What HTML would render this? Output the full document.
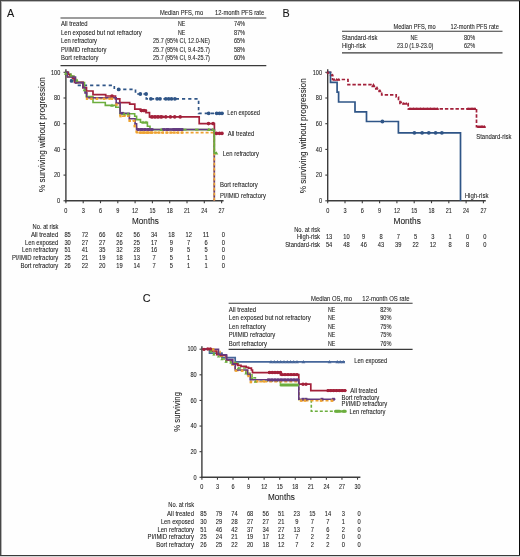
<!DOCTYPE html>
<html><head><meta charset="utf-8"><style>
html,body{margin:0;padding:0;background:#fff;}
body{width:520px;height:557px;overflow:hidden;position:relative;}
svg{position:absolute;left:0;top:0;display:block;will-change:transform;}
svg text{font-family:"Liberation Sans", sans-serif;stroke:#222;stroke-width:0.08px;}
</style></head><body>
<svg width="520" height="557" viewBox="0 0 520 557">
<rect x="0" y="0" width="520" height="557" fill="#fefefe"/>
<text x="7.00" y="16.50" font-size="10.8" text-anchor="start" fill="#111">A</text>
<line x1="60.50" y1="18.00" x2="266.30" y2="18.00" stroke="#3a3a3a" stroke-width="1.1"/>
<line x1="60.50" y1="65.60" x2="266.30" y2="65.60" stroke="#3a3a3a" stroke-width="1.3"/>
<text x="181.60" y="15.10" font-size="6.5" text-anchor="middle" textLength="43.1" lengthAdjust="spacingAndGlyphs" fill="#222">Median PFS, mo</text>
<text x="239.60" y="15.10" font-size="6.5" text-anchor="middle" textLength="49.1" lengthAdjust="spacingAndGlyphs" fill="#222">12-month PFS rate</text>
<text x="61.00" y="26.30" font-size="6.5" text-anchor="start" textLength="26.6" lengthAdjust="spacingAndGlyphs" fill="#222">All treated</text>
<text x="181.60" y="26.30" font-size="6.5" text-anchor="middle" textLength="7.3" lengthAdjust="spacingAndGlyphs" fill="#222">NE</text>
<text x="239.50" y="26.30" font-size="6.5" text-anchor="middle" textLength="11.2" lengthAdjust="spacingAndGlyphs" fill="#222">74%</text>
<text x="61.00" y="34.80" font-size="6.5" text-anchor="start" textLength="80.8" lengthAdjust="spacingAndGlyphs" fill="#222">Len exposed but not refractory</text>
<text x="181.60" y="34.80" font-size="6.5" text-anchor="middle" textLength="7.3" lengthAdjust="spacingAndGlyphs" fill="#222">NE</text>
<text x="239.50" y="34.80" font-size="6.5" text-anchor="middle" textLength="11.2" lengthAdjust="spacingAndGlyphs" fill="#222">87%</text>
<text x="61.00" y="43.20" font-size="6.5" text-anchor="start" textLength="36.0" lengthAdjust="spacingAndGlyphs" fill="#222">Len refractory</text>
<text x="181.50" y="43.20" font-size="6.5" text-anchor="middle" textLength="56.9" lengthAdjust="spacingAndGlyphs" fill="#222">25.7 (95% CI, 12.0-NE)</text>
<text x="239.50" y="43.20" font-size="6.5" text-anchor="middle" textLength="11.2" lengthAdjust="spacingAndGlyphs" fill="#222">65%</text>
<text x="61.00" y="51.60" font-size="6.5" text-anchor="start" textLength="45.5" lengthAdjust="spacingAndGlyphs" fill="#222">PI/IMiD refractory</text>
<text x="181.50" y="51.60" font-size="6.5" text-anchor="middle" textLength="56.9" lengthAdjust="spacingAndGlyphs" fill="#222">25.7 (95% CI, 9.4-25.7)</text>
<text x="239.50" y="51.60" font-size="6.5" text-anchor="middle" textLength="11.2" lengthAdjust="spacingAndGlyphs" fill="#222">58%</text>
<text x="61.00" y="60.00" font-size="6.5" text-anchor="start" textLength="37.4" lengthAdjust="spacingAndGlyphs" fill="#222">Bort refractory</text>
<text x="181.50" y="60.00" font-size="6.5" text-anchor="middle" textLength="56.9" lengthAdjust="spacingAndGlyphs" fill="#222">25.7 (95% CI, 9.4-25.7)</text>
<text x="239.50" y="60.00" font-size="6.5" text-anchor="middle" textLength="11.2" lengthAdjust="spacingAndGlyphs" fill="#222">60%</text>
<line x1="65.90" y1="69.30" x2="65.90" y2="201.40" stroke="#3c3c3c" stroke-width="1.4"/>
<line x1="63.50" y1="200.80" x2="65.90" y2="200.80" stroke="#3c3c3c" stroke-width="1.1"/>
<text x="60.20" y="203.00" font-size="6.5" text-anchor="end" textLength="3.1" lengthAdjust="spacingAndGlyphs" fill="#222">0</text>
<line x1="63.50" y1="175.10" x2="65.90" y2="175.10" stroke="#3c3c3c" stroke-width="1.1"/>
<text x="60.20" y="177.30" font-size="6.5" text-anchor="end" textLength="6.2" lengthAdjust="spacingAndGlyphs" fill="#222">20</text>
<line x1="63.50" y1="149.40" x2="65.90" y2="149.40" stroke="#3c3c3c" stroke-width="1.1"/>
<text x="60.20" y="151.60" font-size="6.5" text-anchor="end" textLength="6.2" lengthAdjust="spacingAndGlyphs" fill="#222">40</text>
<line x1="63.50" y1="123.70" x2="65.90" y2="123.70" stroke="#3c3c3c" stroke-width="1.1"/>
<text x="60.20" y="125.90" font-size="6.5" text-anchor="end" textLength="6.2" lengthAdjust="spacingAndGlyphs" fill="#222">60</text>
<line x1="63.50" y1="98.00" x2="65.90" y2="98.00" stroke="#3c3c3c" stroke-width="1.1"/>
<text x="60.20" y="100.20" font-size="6.5" text-anchor="end" textLength="6.2" lengthAdjust="spacingAndGlyphs" fill="#222">80</text>
<line x1="63.50" y1="72.30" x2="65.90" y2="72.30" stroke="#3c3c3c" stroke-width="1.1"/>
<text x="60.20" y="74.50" font-size="6.5" text-anchor="end" textLength="9.2" lengthAdjust="spacingAndGlyphs" fill="#222">100</text>
<line x1="65.20" y1="200.80" x2="223.60" y2="200.80" stroke="#3c3c3c" stroke-width="1.4"/>
<line x1="65.90" y1="200.80" x2="65.90" y2="203.20" stroke="#3c3c3c" stroke-width="1.1"/>
<text x="65.90" y="212.50" font-size="6.5" text-anchor="middle" textLength="3.1" lengthAdjust="spacingAndGlyphs" fill="#222">0</text>
<line x1="83.20" y1="200.80" x2="83.20" y2="203.20" stroke="#3c3c3c" stroke-width="1.1"/>
<text x="83.20" y="212.50" font-size="6.5" text-anchor="middle" textLength="3.1" lengthAdjust="spacingAndGlyphs" fill="#222">3</text>
<line x1="100.50" y1="200.80" x2="100.50" y2="203.20" stroke="#3c3c3c" stroke-width="1.1"/>
<text x="100.50" y="212.50" font-size="6.5" text-anchor="middle" textLength="3.1" lengthAdjust="spacingAndGlyphs" fill="#222">6</text>
<line x1="117.80" y1="200.80" x2="117.80" y2="203.20" stroke="#3c3c3c" stroke-width="1.1"/>
<text x="117.80" y="212.50" font-size="6.5" text-anchor="middle" textLength="3.1" lengthAdjust="spacingAndGlyphs" fill="#222">9</text>
<line x1="135.10" y1="200.80" x2="135.10" y2="203.20" stroke="#3c3c3c" stroke-width="1.1"/>
<text x="135.10" y="212.50" font-size="6.5" text-anchor="middle" textLength="6.0" lengthAdjust="spacingAndGlyphs" fill="#222">12</text>
<line x1="152.41" y1="200.80" x2="152.41" y2="203.20" stroke="#3c3c3c" stroke-width="1.1"/>
<text x="152.41" y="212.50" font-size="6.5" text-anchor="middle" textLength="6.0" lengthAdjust="spacingAndGlyphs" fill="#222">15</text>
<line x1="169.71" y1="200.80" x2="169.71" y2="203.20" stroke="#3c3c3c" stroke-width="1.1"/>
<text x="169.71" y="212.50" font-size="6.5" text-anchor="middle" textLength="6.0" lengthAdjust="spacingAndGlyphs" fill="#222">18</text>
<line x1="187.01" y1="200.80" x2="187.01" y2="203.20" stroke="#3c3c3c" stroke-width="1.1"/>
<text x="187.01" y="212.50" font-size="6.5" text-anchor="middle" textLength="6.0" lengthAdjust="spacingAndGlyphs" fill="#222">21</text>
<line x1="204.31" y1="200.80" x2="204.31" y2="203.20" stroke="#3c3c3c" stroke-width="1.1"/>
<text x="204.31" y="212.50" font-size="6.5" text-anchor="middle" textLength="6.0" lengthAdjust="spacingAndGlyphs" fill="#222">24</text>
<line x1="221.61" y1="200.80" x2="221.61" y2="203.20" stroke="#3c3c3c" stroke-width="1.1"/>
<text x="221.61" y="212.50" font-size="6.5" text-anchor="middle" textLength="6.0" lengthAdjust="spacingAndGlyphs" fill="#222">27</text>
<text x="145.40" y="223.80" font-size="9.2" text-anchor="middle" textLength="26.7" lengthAdjust="spacingAndGlyphs" fill="#222">Months</text>
<text transform="translate(44.7,134.6) rotate(-90)" font-size="9.0" text-anchor="middle" textLength="115" lengthAdjust="spacingAndGlyphs" fill="#222">% surviving without progression</text>
<path d="M65.90,72.30 H68.50 V76.50 H71.00 V80.90 H76.00 V85.30 H114.30 V89.40 H135.50 V94.00 H146.30 V98.80 H198.60 V113.30 H222.30" fill="none" stroke="#2f5587" stroke-width="1.7" stroke-dasharray="3.2,3" stroke-linejoin="miter" stroke-linecap="butt"/>
<path d="M65.90,72.30 H67.20 V77.00 H75.50 V82.60 H83.00 V88.00 H85.00 V93.00 H86.80 V98.70 H116.30 V104.60 H120.10 V116.20 H129.50 V120.80 H134.70 V126.20 H136.60 V132.60 H214.30 V200.80" fill="none" stroke="#eea230" stroke-width="1.6" stroke-dasharray="3,2" stroke-linejoin="miter" stroke-linecap="butt"/>
<path d="M65.90,72.30 H67.00 V74.00 H71.00 V76.00 H74.00 V80.40 H77.00 V82.50 H84.50 V89.90 H86.20 V96.60 H93.00 V102.50 H105.30 V105.40 H115.80 V107.30 H120.10 V113.80 H134.70 V116.20 H136.60 V119.60 H140.50 V122.30 H147.40 V126.20 H150.00 V129.60 H214.30 V153.10 H216.50" fill="none" stroke="#6cae3e" stroke-width="1.6" stroke-linejoin="miter" stroke-linecap="butt"/>
<path d="M65.90,72.30 H68.00 V74.50 H70.00 V76.50 H72.50 V78.50 H74.50 V82.40 H83.00 V87.50 H86.50 V91.00 H93.00 V94.60 H105.70 V96.00 H115.50 V98.80 H119.80 V102.70 H129.70 V104.20 H134.80 V109.20 H140.60 V110.60 H146.00 V112.70 H149.50 V116.90 H199.20 V123.60 H214.40 V133.40 H222.50" fill="none" stroke="#a3203a" stroke-width="1.7" stroke-linejoin="miter" stroke-linecap="butt"/>
<path d="M65.90,72.30 H67.20 V77.00 H75.50 V82.60 H83.00 V87.70 H85.00 V92.90 H86.80 V97.80 H116.20 V103.10 H120.10 V113.30 H129.30 V118.80 H135.10 V123.80 H136.60 V129.50 H214.30 V200.80" fill="none" stroke="#633a80" stroke-width="1.6" stroke-linejoin="miter" stroke-linecap="butt"/>
<path d="M214.3,132.6 V200.8" fill="none" stroke="#eea230" stroke-width="1.6" stroke-dasharray="3,2" stroke-linejoin="miter" stroke-linecap="butt"/>
<path d="M214.3,129.6 V153.1 H216.5 M183,129.6 H186.5 M195,129.6 H198.5 M207.7,129.6 H210" fill="none" stroke="#6cae3e" stroke-width="1.6" stroke-linejoin="miter" stroke-linecap="butt"/>
<circle cx="71.60" cy="80.90" r="1.9" fill="#2f5587"/>
<circle cx="118.70" cy="89.40" r="1.9" fill="#2f5587"/>
<circle cx="140.30" cy="94.00" r="1.9" fill="#2f5587"/>
<circle cx="146.10" cy="94.00" r="1.9" fill="#2f5587"/>
<circle cx="150.90" cy="98.80" r="1.9" fill="#2f5587"/>
<circle cx="157.10" cy="98.80" r="1.9" fill="#2f5587"/>
<circle cx="160.00" cy="98.80" r="1.9" fill="#2f5587"/>
<circle cx="165.80" cy="98.80" r="1.9" fill="#2f5587"/>
<circle cx="168.70" cy="98.80" r="1.9" fill="#2f5587"/>
<circle cx="171.50" cy="98.80" r="1.9" fill="#2f5587"/>
<circle cx="174.90" cy="98.80" r="1.9" fill="#2f5587"/>
<circle cx="208.70" cy="113.30" r="1.9" fill="#2f5587"/>
<circle cx="216.70" cy="113.30" r="1.9" fill="#2f5587"/>
<circle cx="219.50" cy="113.30" r="1.9" fill="#2f5587"/>
<circle cx="222.00" cy="113.30" r="1.9" fill="#2f5587"/>
<circle cx="112.00" cy="96.00" r="1.8" fill="#a3203a"/>
<circle cx="141.50" cy="110.60" r="1.8" fill="#a3203a"/>
<circle cx="144.00" cy="110.60" r="1.8" fill="#a3203a"/>
<circle cx="152.00" cy="116.90" r="1.8" fill="#a3203a"/>
<circle cx="155.00" cy="116.90" r="1.8" fill="#a3203a"/>
<circle cx="158.00" cy="116.90" r="1.8" fill="#a3203a"/>
<circle cx="161.20" cy="116.90" r="1.8" fill="#a3203a"/>
<circle cx="165.80" cy="116.90" r="1.8" fill="#a3203a"/>
<circle cx="170.40" cy="116.90" r="1.8" fill="#a3203a"/>
<circle cx="174.70" cy="116.90" r="1.8" fill="#a3203a"/>
<circle cx="180.20" cy="116.90" r="1.8" fill="#a3203a"/>
<circle cx="208.50" cy="123.60" r="1.8" fill="#a3203a"/>
<circle cx="213.10" cy="123.60" r="1.8" fill="#a3203a"/>
<circle cx="216.50" cy="133.40" r="1.8" fill="#a3203a"/>
<circle cx="219.50" cy="133.40" r="1.8" fill="#a3203a"/>
<circle cx="222.00" cy="133.40" r="1.8" fill="#a3203a"/>
<rect x="85.80" y="97.50" width="2.4" height="2.4" fill="#eea230"/>
<rect x="90.30" y="97.50" width="2.4" height="2.4" fill="#eea230"/>
<rect x="96.00" y="97.50" width="2.4" height="2.4" fill="#eea230"/>
<rect x="102.80" y="97.50" width="2.4" height="2.4" fill="#eea230"/>
<rect x="108.30" y="97.50" width="2.4" height="2.4" fill="#eea230"/>
<rect x="110.80" y="97.50" width="2.4" height="2.4" fill="#eea230"/>
<rect x="115.40" y="103.40" width="2.4" height="2.4" fill="#eea230"/>
<rect x="119.30" y="115.00" width="2.4" height="2.4" fill="#eea230"/>
<rect x="123.50" y="114.30" width="2.4" height="2.4" fill="#eea230"/>
<rect x="127.30" y="114.30" width="2.4" height="2.4" fill="#eea230"/>
<rect x="128.50" y="119.60" width="2.4" height="2.4" fill="#eea230"/>
<rect x="133.10" y="119.60" width="2.4" height="2.4" fill="#eea230"/>
<rect x="133.50" y="125.00" width="2.4" height="2.4" fill="#eea230"/>
<rect x="135.40" y="130.30" width="2.4" height="2.4" fill="#eea230"/>
<rect x="138.80" y="131.40" width="2.4" height="2.4" fill="#eea230"/>
<rect x="142.62" y="131.40" width="2.4" height="2.4" fill="#eea230"/>
<rect x="146.44" y="131.40" width="2.4" height="2.4" fill="#eea230"/>
<rect x="150.25" y="131.40" width="2.4" height="2.4" fill="#eea230"/>
<rect x="154.07" y="131.40" width="2.4" height="2.4" fill="#eea230"/>
<rect x="157.89" y="131.40" width="2.4" height="2.4" fill="#eea230"/>
<rect x="161.71" y="131.40" width="2.4" height="2.4" fill="#eea230"/>
<rect x="165.53" y="131.40" width="2.4" height="2.4" fill="#eea230"/>
<rect x="169.35" y="131.40" width="2.4" height="2.4" fill="#eea230"/>
<rect x="173.16" y="131.40" width="2.4" height="2.4" fill="#eea230"/>
<rect x="176.98" y="131.40" width="2.4" height="2.4" fill="#eea230"/>
<rect x="180.80" y="131.40" width="2.4" height="2.4" fill="#eea230"/>
<rect x="121.10" y="111.90" width="2.8" height="2.8" fill="#633a80"/>
<rect x="136.60" y="128.10" width="2.8" height="2.8" fill="#633a80"/>
<rect x="140.10" y="128.10" width="2.8" height="2.8" fill="#633a80"/>
<rect x="143.60" y="128.10" width="2.8" height="2.8" fill="#633a80"/>
<rect x="147.10" y="128.10" width="2.8" height="2.8" fill="#633a80"/>
<rect x="150.60" y="128.10" width="2.8" height="2.8" fill="#633a80"/>
<rect x="162.10" y="128.10" width="2.8" height="2.8" fill="#633a80"/>
<rect x="166.10" y="128.10" width="2.8" height="2.8" fill="#633a80"/>
<rect x="172.40" y="128.10" width="2.8" height="2.8" fill="#633a80"/>
<rect x="175.13" y="128.10" width="2.8" height="2.8" fill="#633a80"/>
<rect x="177.87" y="128.10" width="2.8" height="2.8" fill="#633a80"/>
<rect x="180.60" y="128.10" width="2.8" height="2.8" fill="#633a80"/>
<path d="M63.90,74.85 L67.50,74.85 L65.70,71.70 Z" fill="#6cae3e"/>
<path d="M69.10,76.85 L72.70,76.85 L70.90,73.70 Z" fill="#6cae3e"/>
<path d="M75.20,81.75 L78.80,81.75 L77.00,78.60 Z" fill="#6cae3e"/>
<path d="M82.70,91.25 L86.30,91.25 L84.50,88.10 Z" fill="#6cae3e"/>
<path d="M110.20,106.75 L113.80,106.75 L112.00,103.60 Z" fill="#6cae3e"/>
<path d="M122.20,115.15 L125.80,115.15 L124.00,112.00 Z" fill="#6cae3e"/>
<path d="M126.20,115.15 L129.80,115.15 L128.00,112.00 Z" fill="#6cae3e"/>
<path d="M141.20,123.65 L144.80,123.65 L143.00,120.50 Z" fill="#6cae3e"/>
<path d="M144.20,123.65 L147.80,123.65 L146.00,120.50 Z" fill="#6cae3e"/>
<path d="M159.40,130.95 L163.00,130.95 L161.20,127.80 Z" fill="#6cae3e"/>
<path d="M207.00,130.95 L210.60,130.95 L208.80,127.80 Z" fill="#6cae3e"/>
<path d="M210.90,130.95 L214.50,130.95 L212.70,127.80 Z" fill="#6cae3e"/>
<path d="M214.70,154.45 L218.30,154.45 L216.50,151.30 Z" fill="#6cae3e"/>
<path d="M141,110.6 H146 M150.5,116.9 H163" stroke="#a3203a" stroke-width="2.6" stroke-linecap="round" fill="none"/>
<path d="M138,129.5 H150.6 M165,129.5 H173.4 M174.6,129.5 H182" stroke="#633a80" stroke-width="2.5" stroke-linecap="round" fill="none"/>
<path d="M140.6,132.6 H152.2" stroke="#eea230" stroke-width="2.4" stroke-linecap="round" fill="none"/>
<text x="227.30" y="115.30" font-size="6.5" text-anchor="start" textLength="32.7" lengthAdjust="spacingAndGlyphs" fill="#222">Len exposed</text>
<text x="227.80" y="135.80" font-size="6.5" text-anchor="start" textLength="26.4" lengthAdjust="spacingAndGlyphs" fill="#222">All treated</text>
<text x="222.80" y="155.50" font-size="6.5" text-anchor="start" textLength="36.2" lengthAdjust="spacingAndGlyphs" fill="#222">Len refractory</text>
<text x="220.00" y="187.30" font-size="6.5" text-anchor="start" textLength="37.8" lengthAdjust="spacingAndGlyphs" fill="#222">Bort refractory</text>
<text x="220.00" y="198.20" font-size="6.5" text-anchor="start" textLength="45.9" lengthAdjust="spacingAndGlyphs" fill="#222">PI/IMiD refractory</text>
<text x="58.50" y="228.80" font-size="6.5" text-anchor="end" textLength="25.9" lengthAdjust="spacingAndGlyphs" fill="#222">No. at risk</text>
<text x="58.30" y="236.60" font-size="6.5" text-anchor="end" textLength="27.4" lengthAdjust="spacingAndGlyphs" fill="#222">All treated</text>
<text x="67.60" y="236.60" font-size="6.6" text-anchor="middle" textLength="6.4" lengthAdjust="spacingAndGlyphs" fill="#222">85</text>
<text x="84.90" y="236.60" font-size="6.6" text-anchor="middle" textLength="6.4" lengthAdjust="spacingAndGlyphs" fill="#222">72</text>
<text x="102.20" y="236.60" font-size="6.6" text-anchor="middle" textLength="6.4" lengthAdjust="spacingAndGlyphs" fill="#222">66</text>
<text x="119.50" y="236.60" font-size="6.6" text-anchor="middle" textLength="6.4" lengthAdjust="spacingAndGlyphs" fill="#222">62</text>
<text x="136.80" y="236.60" font-size="6.6" text-anchor="middle" textLength="6.4" lengthAdjust="spacingAndGlyphs" fill="#222">56</text>
<text x="154.11" y="236.60" font-size="6.6" text-anchor="middle" textLength="6.4" lengthAdjust="spacingAndGlyphs" fill="#222">34</text>
<text x="171.41" y="236.60" font-size="6.6" text-anchor="middle" textLength="6.4" lengthAdjust="spacingAndGlyphs" fill="#222">18</text>
<text x="188.71" y="236.60" font-size="6.6" text-anchor="middle" textLength="6.4" lengthAdjust="spacingAndGlyphs" fill="#222">12</text>
<text x="206.01" y="236.60" font-size="6.6" text-anchor="middle" textLength="6.4" lengthAdjust="spacingAndGlyphs" fill="#222">11</text>
<text x="223.31" y="236.60" font-size="6.6" text-anchor="middle" textLength="3.2" lengthAdjust="spacingAndGlyphs" fill="#222">0</text>
<text x="58.30" y="244.60" font-size="6.5" text-anchor="end" textLength="33.2" lengthAdjust="spacingAndGlyphs" fill="#222">Len exposed</text>
<text x="67.60" y="244.60" font-size="6.6" text-anchor="middle" textLength="6.4" lengthAdjust="spacingAndGlyphs" fill="#222">30</text>
<text x="84.90" y="244.60" font-size="6.6" text-anchor="middle" textLength="6.4" lengthAdjust="spacingAndGlyphs" fill="#222">27</text>
<text x="102.20" y="244.60" font-size="6.6" text-anchor="middle" textLength="6.4" lengthAdjust="spacingAndGlyphs" fill="#222">27</text>
<text x="119.50" y="244.60" font-size="6.6" text-anchor="middle" textLength="6.4" lengthAdjust="spacingAndGlyphs" fill="#222">26</text>
<text x="136.80" y="244.60" font-size="6.6" text-anchor="middle" textLength="6.4" lengthAdjust="spacingAndGlyphs" fill="#222">25</text>
<text x="154.11" y="244.60" font-size="6.6" text-anchor="middle" textLength="6.4" lengthAdjust="spacingAndGlyphs" fill="#222">17</text>
<text x="171.41" y="244.60" font-size="6.6" text-anchor="middle" textLength="3.2" lengthAdjust="spacingAndGlyphs" fill="#222">9</text>
<text x="188.71" y="244.60" font-size="6.6" text-anchor="middle" textLength="3.2" lengthAdjust="spacingAndGlyphs" fill="#222">7</text>
<text x="206.01" y="244.60" font-size="6.6" text-anchor="middle" textLength="3.2" lengthAdjust="spacingAndGlyphs" fill="#222">6</text>
<text x="223.31" y="244.60" font-size="6.6" text-anchor="middle" textLength="3.2" lengthAdjust="spacingAndGlyphs" fill="#222">0</text>
<text x="58.30" y="252.40" font-size="6.5" text-anchor="end" textLength="36.4" lengthAdjust="spacingAndGlyphs" fill="#222">Len refractory</text>
<text x="67.60" y="252.40" font-size="6.6" text-anchor="middle" textLength="6.4" lengthAdjust="spacingAndGlyphs" fill="#222">51</text>
<text x="84.90" y="252.40" font-size="6.6" text-anchor="middle" textLength="6.4" lengthAdjust="spacingAndGlyphs" fill="#222">41</text>
<text x="102.20" y="252.40" font-size="6.6" text-anchor="middle" textLength="6.4" lengthAdjust="spacingAndGlyphs" fill="#222">35</text>
<text x="119.50" y="252.40" font-size="6.6" text-anchor="middle" textLength="6.4" lengthAdjust="spacingAndGlyphs" fill="#222">32</text>
<text x="136.80" y="252.40" font-size="6.6" text-anchor="middle" textLength="6.4" lengthAdjust="spacingAndGlyphs" fill="#222">28</text>
<text x="154.11" y="252.40" font-size="6.6" text-anchor="middle" textLength="6.4" lengthAdjust="spacingAndGlyphs" fill="#222">16</text>
<text x="171.41" y="252.40" font-size="6.6" text-anchor="middle" textLength="3.2" lengthAdjust="spacingAndGlyphs" fill="#222">9</text>
<text x="188.71" y="252.40" font-size="6.6" text-anchor="middle" textLength="3.2" lengthAdjust="spacingAndGlyphs" fill="#222">5</text>
<text x="206.01" y="252.40" font-size="6.6" text-anchor="middle" textLength="3.2" lengthAdjust="spacingAndGlyphs" fill="#222">5</text>
<text x="223.31" y="252.40" font-size="6.6" text-anchor="middle" textLength="3.2" lengthAdjust="spacingAndGlyphs" fill="#222">0</text>
<text x="58.30" y="260.20" font-size="6.5" text-anchor="end" textLength="46.3" lengthAdjust="spacingAndGlyphs" fill="#222">PI/IMiD refractory</text>
<text x="67.60" y="260.20" font-size="6.6" text-anchor="middle" textLength="6.4" lengthAdjust="spacingAndGlyphs" fill="#222">25</text>
<text x="84.90" y="260.20" font-size="6.6" text-anchor="middle" textLength="6.4" lengthAdjust="spacingAndGlyphs" fill="#222">21</text>
<text x="102.20" y="260.20" font-size="6.6" text-anchor="middle" textLength="6.4" lengthAdjust="spacingAndGlyphs" fill="#222">19</text>
<text x="119.50" y="260.20" font-size="6.6" text-anchor="middle" textLength="6.4" lengthAdjust="spacingAndGlyphs" fill="#222">18</text>
<text x="136.80" y="260.20" font-size="6.6" text-anchor="middle" textLength="6.4" lengthAdjust="spacingAndGlyphs" fill="#222">13</text>
<text x="154.11" y="260.20" font-size="6.6" text-anchor="middle" textLength="3.2" lengthAdjust="spacingAndGlyphs" fill="#222">7</text>
<text x="171.41" y="260.20" font-size="6.6" text-anchor="middle" textLength="3.2" lengthAdjust="spacingAndGlyphs" fill="#222">5</text>
<text x="188.71" y="260.20" font-size="6.6" text-anchor="middle" textLength="3.2" lengthAdjust="spacingAndGlyphs" fill="#222">1</text>
<text x="206.01" y="260.20" font-size="6.6" text-anchor="middle" textLength="3.2" lengthAdjust="spacingAndGlyphs" fill="#222">1</text>
<text x="223.31" y="260.20" font-size="6.6" text-anchor="middle" textLength="3.2" lengthAdjust="spacingAndGlyphs" fill="#222">0</text>
<text x="58.30" y="268.00" font-size="6.5" text-anchor="end" textLength="37.9" lengthAdjust="spacingAndGlyphs" fill="#222">Bort refractory</text>
<text x="67.60" y="268.00" font-size="6.6" text-anchor="middle" textLength="6.4" lengthAdjust="spacingAndGlyphs" fill="#222">26</text>
<text x="84.90" y="268.00" font-size="6.6" text-anchor="middle" textLength="6.4" lengthAdjust="spacingAndGlyphs" fill="#222">22</text>
<text x="102.20" y="268.00" font-size="6.6" text-anchor="middle" textLength="6.4" lengthAdjust="spacingAndGlyphs" fill="#222">20</text>
<text x="119.50" y="268.00" font-size="6.6" text-anchor="middle" textLength="6.4" lengthAdjust="spacingAndGlyphs" fill="#222">19</text>
<text x="136.80" y="268.00" font-size="6.6" text-anchor="middle" textLength="6.4" lengthAdjust="spacingAndGlyphs" fill="#222">14</text>
<text x="154.11" y="268.00" font-size="6.6" text-anchor="middle" textLength="3.2" lengthAdjust="spacingAndGlyphs" fill="#222">7</text>
<text x="171.41" y="268.00" font-size="6.6" text-anchor="middle" textLength="3.2" lengthAdjust="spacingAndGlyphs" fill="#222">5</text>
<text x="188.71" y="268.00" font-size="6.6" text-anchor="middle" textLength="3.2" lengthAdjust="spacingAndGlyphs" fill="#222">1</text>
<text x="206.01" y="268.00" font-size="6.6" text-anchor="middle" textLength="3.2" lengthAdjust="spacingAndGlyphs" fill="#222">1</text>
<text x="223.31" y="268.00" font-size="6.6" text-anchor="middle" textLength="3.2" lengthAdjust="spacingAndGlyphs" fill="#222">0</text>
<text x="282.50" y="16.60" font-size="10.8" text-anchor="start" fill="#111">B</text>
<line x1="342.00" y1="31.30" x2="502.50" y2="31.30" stroke="#3a3a3a" stroke-width="1.1"/>
<line x1="342.00" y1="52.90" x2="502.50" y2="52.90" stroke="#3a3a3a" stroke-width="1.3"/>
<text x="414.60" y="28.60" font-size="6.5" text-anchor="middle" textLength="42.2" lengthAdjust="spacingAndGlyphs" fill="#222">Median PFS, mo</text>
<text x="474.70" y="28.60" font-size="6.5" text-anchor="middle" textLength="48.4" lengthAdjust="spacingAndGlyphs" fill="#222">12-month PFS rate</text>
<text x="342.00" y="39.60" font-size="6.5" text-anchor="start" textLength="35.4" lengthAdjust="spacingAndGlyphs" fill="#222">Standard-risk</text>
<text x="342.00" y="48.30" font-size="6.5" text-anchor="start" textLength="23.7" lengthAdjust="spacingAndGlyphs" fill="#222">High-risk</text>
<text x="414.20" y="39.60" font-size="6.5" text-anchor="middle" textLength="7.3" lengthAdjust="spacingAndGlyphs" fill="#222">NE</text>
<text x="415.20" y="48.30" font-size="6.5" text-anchor="middle" textLength="36.4" lengthAdjust="spacingAndGlyphs" fill="#222">23.0 (1.9-23.0)</text>
<text x="469.60" y="39.60" font-size="6.5" text-anchor="middle" textLength="11.2" lengthAdjust="spacingAndGlyphs" fill="#222">80%</text>
<text x="469.60" y="48.30" font-size="6.5" text-anchor="middle" textLength="11.2" lengthAdjust="spacingAndGlyphs" fill="#222">62%</text>
<line x1="327.70" y1="69.30" x2="327.70" y2="201.40" stroke="#3c3c3c" stroke-width="1.4"/>
<line x1="325.30" y1="200.80" x2="327.70" y2="200.80" stroke="#3c3c3c" stroke-width="1.1"/>
<text x="322.00" y="203.00" font-size="6.5" text-anchor="end" textLength="3.1" lengthAdjust="spacingAndGlyphs" fill="#222">0</text>
<line x1="325.30" y1="175.10" x2="327.70" y2="175.10" stroke="#3c3c3c" stroke-width="1.1"/>
<text x="322.00" y="177.30" font-size="6.5" text-anchor="end" textLength="6.2" lengthAdjust="spacingAndGlyphs" fill="#222">20</text>
<line x1="325.30" y1="149.40" x2="327.70" y2="149.40" stroke="#3c3c3c" stroke-width="1.1"/>
<text x="322.00" y="151.60" font-size="6.5" text-anchor="end" textLength="6.2" lengthAdjust="spacingAndGlyphs" fill="#222">40</text>
<line x1="325.30" y1="123.70" x2="327.70" y2="123.70" stroke="#3c3c3c" stroke-width="1.1"/>
<text x="322.00" y="125.90" font-size="6.5" text-anchor="end" textLength="6.2" lengthAdjust="spacingAndGlyphs" fill="#222">60</text>
<line x1="325.30" y1="98.00" x2="327.70" y2="98.00" stroke="#3c3c3c" stroke-width="1.1"/>
<text x="322.00" y="100.20" font-size="6.5" text-anchor="end" textLength="6.2" lengthAdjust="spacingAndGlyphs" fill="#222">80</text>
<line x1="325.30" y1="72.30" x2="327.70" y2="72.30" stroke="#3c3c3c" stroke-width="1.1"/>
<text x="322.00" y="74.50" font-size="6.5" text-anchor="end" textLength="9.2" lengthAdjust="spacingAndGlyphs" fill="#222">100</text>
<line x1="327.00" y1="200.80" x2="485.80" y2="200.80" stroke="#3c3c3c" stroke-width="1.4"/>
<line x1="327.70" y1="200.80" x2="327.70" y2="203.20" stroke="#3c3c3c" stroke-width="1.1"/>
<text x="327.70" y="212.50" font-size="6.5" text-anchor="middle" textLength="3.1" lengthAdjust="spacingAndGlyphs" fill="#222">0</text>
<line x1="345.00" y1="200.80" x2="345.00" y2="203.20" stroke="#3c3c3c" stroke-width="1.1"/>
<text x="345.00" y="212.50" font-size="6.5" text-anchor="middle" textLength="3.1" lengthAdjust="spacingAndGlyphs" fill="#222">3</text>
<line x1="362.30" y1="200.80" x2="362.30" y2="203.20" stroke="#3c3c3c" stroke-width="1.1"/>
<text x="362.30" y="212.50" font-size="6.5" text-anchor="middle" textLength="3.1" lengthAdjust="spacingAndGlyphs" fill="#222">6</text>
<line x1="379.60" y1="200.80" x2="379.60" y2="203.20" stroke="#3c3c3c" stroke-width="1.1"/>
<text x="379.60" y="212.50" font-size="6.5" text-anchor="middle" textLength="3.1" lengthAdjust="spacingAndGlyphs" fill="#222">9</text>
<line x1="396.90" y1="200.80" x2="396.90" y2="203.20" stroke="#3c3c3c" stroke-width="1.1"/>
<text x="396.90" y="212.50" font-size="6.5" text-anchor="middle" textLength="6.0" lengthAdjust="spacingAndGlyphs" fill="#222">12</text>
<line x1="414.20" y1="200.80" x2="414.20" y2="203.20" stroke="#3c3c3c" stroke-width="1.1"/>
<text x="414.20" y="212.50" font-size="6.5" text-anchor="middle" textLength="6.0" lengthAdjust="spacingAndGlyphs" fill="#222">15</text>
<line x1="431.51" y1="200.80" x2="431.51" y2="203.20" stroke="#3c3c3c" stroke-width="1.1"/>
<text x="431.51" y="212.50" font-size="6.5" text-anchor="middle" textLength="6.0" lengthAdjust="spacingAndGlyphs" fill="#222">18</text>
<line x1="448.81" y1="200.80" x2="448.81" y2="203.20" stroke="#3c3c3c" stroke-width="1.1"/>
<text x="448.81" y="212.50" font-size="6.5" text-anchor="middle" textLength="6.0" lengthAdjust="spacingAndGlyphs" fill="#222">21</text>
<line x1="466.11" y1="200.80" x2="466.11" y2="203.20" stroke="#3c3c3c" stroke-width="1.1"/>
<text x="466.11" y="212.50" font-size="6.5" text-anchor="middle" textLength="6.0" lengthAdjust="spacingAndGlyphs" fill="#222">24</text>
<line x1="483.41" y1="200.80" x2="483.41" y2="203.20" stroke="#3c3c3c" stroke-width="1.1"/>
<text x="483.41" y="212.50" font-size="6.5" text-anchor="middle" textLength="6.0" lengthAdjust="spacingAndGlyphs" fill="#222">27</text>
<text x="407.20" y="223.80" font-size="9.2" text-anchor="middle" textLength="27.3" lengthAdjust="spacingAndGlyphs" fill="#222">Months</text>
<text transform="translate(306.1,135.8) rotate(-90)" font-size="9.0" text-anchor="middle" textLength="115" lengthAdjust="spacingAndGlyphs" fill="#222">% surviving without progression</text>
<path d="M327.70,72.30 H330.50 V75.00 H332.50 V79.50 H348.00 V84.70 H372.30 V86.50 H375.80 V89.00 H379.20 V91.50 H381.70 V94.80 H396.20 V97.00 H398.50 V99.50 H400.00 V103.50 H408.20 V108.80 H476.50 V126.70 H484.60" fill="none" stroke="#a3203a" stroke-width="1.7" stroke-dasharray="3.4,1.9" stroke-linejoin="miter" stroke-linecap="butt"/>
<path d="M327.70,72.30 H330.50 V82.30 H337.10 V92.10 H338.60 V102.00 H355.00 V111.90 H366.50 V121.50 H398.40 V132.80 H460.50 V200.80" fill="none" stroke="#2f5587" stroke-width="1.7" stroke-linejoin="miter" stroke-linecap="butt"/>
<circle cx="382.40" cy="121.50" r="1.9" fill="#2f5587"/>
<circle cx="414.40" cy="132.80" r="1.9" fill="#2f5587"/>
<circle cx="422.10" cy="132.80" r="1.9" fill="#2f5587"/>
<circle cx="428.80" cy="132.80" r="1.9" fill="#2f5587"/>
<circle cx="435.60" cy="132.80" r="1.9" fill="#2f5587"/>
<circle cx="441.90" cy="132.80" r="1.9" fill="#2f5587"/>
<path d="M326.30,73.70 L329.50,73.70 L327.90,70.90 Z" fill="#a3203a"/>
<path d="M330.70,76.20 L333.90,76.20 L332.30,73.40 Z" fill="#a3203a"/>
<path d="M332.60,80.70 L335.80,80.70 L334.20,77.90 Z" fill="#a3203a"/>
<path d="M334.90,80.70 L338.10,80.70 L336.50,77.90 Z" fill="#a3203a"/>
<path d="M337.20,80.70 L340.40,80.70 L338.80,77.90 Z" fill="#a3203a"/>
<path d="M371.90,85.90 L375.10,85.90 L373.50,83.10 Z" fill="#a3203a"/>
<path d="M375.40,88.70 L378.60,88.70 L377.00,85.90 Z" fill="#a3203a"/>
<path d="M378.40,91.70 L381.60,91.70 L380.00,88.90 Z" fill="#a3203a"/>
<path d="M399.40,103.20 L402.60,103.20 L401.00,100.40 Z" fill="#a3203a"/>
<path d="M401.90,104.70 L405.10,104.70 L403.50,101.90 Z" fill="#a3203a"/>
<path d="M404.90,104.70 L408.10,104.70 L406.50,101.90 Z" fill="#a3203a"/>
<path d="M408.40,110.00 L411.60,110.00 L410.00,107.20 Z" fill="#a3203a"/>
<path d="M411.84,110.00 L415.04,110.00 L413.44,107.20 Z" fill="#a3203a"/>
<path d="M415.27,110.00 L418.48,110.00 L416.88,107.20 Z" fill="#a3203a"/>
<path d="M418.71,110.00 L421.91,110.00 L420.31,107.20 Z" fill="#a3203a"/>
<path d="M422.15,110.00 L425.35,110.00 L423.75,107.20 Z" fill="#a3203a"/>
<path d="M425.59,110.00 L428.79,110.00 L427.19,107.20 Z" fill="#a3203a"/>
<path d="M429.02,110.00 L432.23,110.00 L430.62,107.20 Z" fill="#a3203a"/>
<path d="M432.46,110.00 L435.66,110.00 L434.06,107.20 Z" fill="#a3203a"/>
<path d="M435.90,110.00 L439.10,110.00 L437.50,107.20 Z" fill="#a3203a"/>
<path d="M466.40,110.00 L469.60,110.00 L468.00,107.20 Z" fill="#a3203a"/>
<path d="M470.40,110.00 L473.60,110.00 L472.00,107.20 Z" fill="#a3203a"/>
<path d="M473.40,110.00 L476.60,110.00 L475.00,107.20 Z" fill="#a3203a"/>
<path d="M477.40,127.90 L480.60,127.90 L479.00,125.10 Z" fill="#a3203a"/>
<path d="M480.40,127.90 L483.60,127.90 L482.00,125.10 Z" fill="#a3203a"/>
<path d="M482.80,127.90 L486.00,127.90 L484.40,125.10 Z" fill="#a3203a"/>
<path d="M409.5,108.9 H437.5 M468,108.9 H475 M478,126.8 H484.5" stroke="#a3203a" stroke-width="2.3" stroke-linecap="round" fill="none"/>
<text x="476.30" y="139.00" font-size="6.5" text-anchor="start" textLength="35.1" lengthAdjust="spacingAndGlyphs" fill="#222">Standard-risk</text>
<text x="464.70" y="197.60" font-size="6.5" text-anchor="start" textLength="23.8" lengthAdjust="spacingAndGlyphs" fill="#222">High-risk</text>
<text x="320.10" y="231.60" font-size="6.5" text-anchor="end" textLength="25.9" lengthAdjust="spacingAndGlyphs" fill="#222">No. at risk</text>
<text x="320.00" y="239.00" font-size="6.5" text-anchor="end" textLength="23.1" lengthAdjust="spacingAndGlyphs" fill="#222">High-risk</text>
<text x="320.00" y="246.80" font-size="6.5" text-anchor="end" textLength="34.8" lengthAdjust="spacingAndGlyphs" fill="#222">Standard-risk</text>
<text x="329.10" y="239.00" font-size="6.6" text-anchor="middle" textLength="6.4" lengthAdjust="spacingAndGlyphs" fill="#222">13</text>
<text x="346.40" y="239.00" font-size="6.6" text-anchor="middle" textLength="6.4" lengthAdjust="spacingAndGlyphs" fill="#222">10</text>
<text x="363.70" y="239.00" font-size="6.6" text-anchor="middle" textLength="3.2" lengthAdjust="spacingAndGlyphs" fill="#222">9</text>
<text x="381.00" y="239.00" font-size="6.6" text-anchor="middle" textLength="3.2" lengthAdjust="spacingAndGlyphs" fill="#222">8</text>
<text x="398.30" y="239.00" font-size="6.6" text-anchor="middle" textLength="3.2" lengthAdjust="spacingAndGlyphs" fill="#222">7</text>
<text x="415.60" y="239.00" font-size="6.6" text-anchor="middle" textLength="3.2" lengthAdjust="spacingAndGlyphs" fill="#222">5</text>
<text x="432.91" y="239.00" font-size="6.6" text-anchor="middle" textLength="3.2" lengthAdjust="spacingAndGlyphs" fill="#222">3</text>
<text x="450.21" y="239.00" font-size="6.6" text-anchor="middle" textLength="3.2" lengthAdjust="spacingAndGlyphs" fill="#222">1</text>
<text x="467.51" y="239.00" font-size="6.6" text-anchor="middle" textLength="3.2" lengthAdjust="spacingAndGlyphs" fill="#222">0</text>
<text x="484.81" y="239.00" font-size="6.6" text-anchor="middle" textLength="3.2" lengthAdjust="spacingAndGlyphs" fill="#222">0</text>
<text x="329.10" y="246.80" font-size="6.6" text-anchor="middle" textLength="6.4" lengthAdjust="spacingAndGlyphs" fill="#222">54</text>
<text x="346.40" y="246.80" font-size="6.6" text-anchor="middle" textLength="6.4" lengthAdjust="spacingAndGlyphs" fill="#222">48</text>
<text x="363.70" y="246.80" font-size="6.6" text-anchor="middle" textLength="6.4" lengthAdjust="spacingAndGlyphs" fill="#222">46</text>
<text x="381.00" y="246.80" font-size="6.6" text-anchor="middle" textLength="6.4" lengthAdjust="spacingAndGlyphs" fill="#222">43</text>
<text x="398.30" y="246.80" font-size="6.6" text-anchor="middle" textLength="6.4" lengthAdjust="spacingAndGlyphs" fill="#222">39</text>
<text x="415.60" y="246.80" font-size="6.6" text-anchor="middle" textLength="6.4" lengthAdjust="spacingAndGlyphs" fill="#222">22</text>
<text x="432.91" y="246.80" font-size="6.6" text-anchor="middle" textLength="6.4" lengthAdjust="spacingAndGlyphs" fill="#222">12</text>
<text x="450.21" y="246.80" font-size="6.6" text-anchor="middle" textLength="3.2" lengthAdjust="spacingAndGlyphs" fill="#222">8</text>
<text x="467.51" y="246.80" font-size="6.6" text-anchor="middle" textLength="3.2" lengthAdjust="spacingAndGlyphs" fill="#222">8</text>
<text x="484.81" y="246.80" font-size="6.6" text-anchor="middle" textLength="3.2" lengthAdjust="spacingAndGlyphs" fill="#222">0</text>
<text x="142.80" y="302.30" font-size="10.8" text-anchor="start" fill="#111">C</text>
<line x1="228.60" y1="303.30" x2="412.60" y2="303.30" stroke="#3a3a3a" stroke-width="1.1"/>
<line x1="228.60" y1="349.30" x2="412.60" y2="349.30" stroke="#3a3a3a" stroke-width="1.3"/>
<text x="331.50" y="300.50" font-size="6.5" text-anchor="middle" textLength="41.0" lengthAdjust="spacingAndGlyphs" fill="#222">Median OS, mo</text>
<text x="386.00" y="300.50" font-size="6.5" text-anchor="middle" textLength="47.3" lengthAdjust="spacingAndGlyphs" fill="#222">12-month OS rate</text>
<text x="228.80" y="311.90" font-size="6.5" text-anchor="start" textLength="27.4" lengthAdjust="spacingAndGlyphs" fill="#222">All treated</text>
<text x="331.60" y="311.90" font-size="6.5" text-anchor="middle" textLength="7.3" lengthAdjust="spacingAndGlyphs" fill="#222">NE</text>
<text x="385.80" y="311.90" font-size="6.5" text-anchor="middle" textLength="11.2" lengthAdjust="spacingAndGlyphs" fill="#222">82%</text>
<text x="228.80" y="320.40" font-size="6.5" text-anchor="start" textLength="81.9" lengthAdjust="spacingAndGlyphs" fill="#222">Len exposed but not refractory</text>
<text x="331.60" y="320.40" font-size="6.5" text-anchor="middle" textLength="7.3" lengthAdjust="spacingAndGlyphs" fill="#222">NE</text>
<text x="385.80" y="320.40" font-size="6.5" text-anchor="middle" textLength="11.2" lengthAdjust="spacingAndGlyphs" fill="#222">90%</text>
<text x="228.80" y="328.90" font-size="6.5" text-anchor="start" textLength="36.9" lengthAdjust="spacingAndGlyphs" fill="#222">Len refractory</text>
<text x="331.60" y="328.90" font-size="6.5" text-anchor="middle" textLength="7.3" lengthAdjust="spacingAndGlyphs" fill="#222">NE</text>
<text x="385.80" y="328.90" font-size="6.5" text-anchor="middle" textLength="11.2" lengthAdjust="spacingAndGlyphs" fill="#222">75%</text>
<text x="228.80" y="337.30" font-size="6.5" text-anchor="start" textLength="46.4" lengthAdjust="spacingAndGlyphs" fill="#222">PI/IMiD refractory</text>
<text x="331.60" y="337.30" font-size="6.5" text-anchor="middle" textLength="7.3" lengthAdjust="spacingAndGlyphs" fill="#222">NE</text>
<text x="385.80" y="337.30" font-size="6.5" text-anchor="middle" textLength="11.2" lengthAdjust="spacingAndGlyphs" fill="#222">75%</text>
<text x="228.80" y="345.80" font-size="6.5" text-anchor="start" textLength="38.1" lengthAdjust="spacingAndGlyphs" fill="#222">Bort refractory</text>
<text x="331.60" y="345.80" font-size="6.5" text-anchor="middle" textLength="7.3" lengthAdjust="spacingAndGlyphs" fill="#222">NE</text>
<text x="385.80" y="345.80" font-size="6.5" text-anchor="middle" textLength="11.2" lengthAdjust="spacingAndGlyphs" fill="#222">76%</text>
<line x1="201.90" y1="346.30" x2="201.90" y2="477.90" stroke="#3c3c3c" stroke-width="1.4"/>
<line x1="199.50" y1="477.30" x2="201.90" y2="477.30" stroke="#3c3c3c" stroke-width="1.1"/>
<text x="196.60" y="479.50" font-size="6.5" text-anchor="end" textLength="3.1" lengthAdjust="spacingAndGlyphs" fill="#222">0</text>
<line x1="199.50" y1="451.68" x2="201.90" y2="451.68" stroke="#3c3c3c" stroke-width="1.1"/>
<text x="196.60" y="453.88" font-size="6.5" text-anchor="end" textLength="6.2" lengthAdjust="spacingAndGlyphs" fill="#222">20</text>
<line x1="199.50" y1="426.06" x2="201.90" y2="426.06" stroke="#3c3c3c" stroke-width="1.1"/>
<text x="196.60" y="428.26" font-size="6.5" text-anchor="end" textLength="6.2" lengthAdjust="spacingAndGlyphs" fill="#222">40</text>
<line x1="199.50" y1="400.44" x2="201.90" y2="400.44" stroke="#3c3c3c" stroke-width="1.1"/>
<text x="196.60" y="402.64" font-size="6.5" text-anchor="end" textLength="6.2" lengthAdjust="spacingAndGlyphs" fill="#222">60</text>
<line x1="199.50" y1="374.82" x2="201.90" y2="374.82" stroke="#3c3c3c" stroke-width="1.1"/>
<text x="196.60" y="377.02" font-size="6.5" text-anchor="end" textLength="6.2" lengthAdjust="spacingAndGlyphs" fill="#222">80</text>
<line x1="199.50" y1="349.20" x2="201.90" y2="349.20" stroke="#3c3c3c" stroke-width="1.1"/>
<text x="196.60" y="351.40" font-size="6.5" text-anchor="end" textLength="9.2" lengthAdjust="spacingAndGlyphs" fill="#222">100</text>
<line x1="201.20" y1="477.30" x2="360.40" y2="477.30" stroke="#3c3c3c" stroke-width="1.4"/>
<line x1="201.90" y1="477.30" x2="201.90" y2="479.70" stroke="#3c3c3c" stroke-width="1.1"/>
<text x="201.90" y="489.00" font-size="6.5" text-anchor="middle" textLength="3.1" lengthAdjust="spacingAndGlyphs" fill="#222">0</text>
<line x1="217.46" y1="477.30" x2="217.46" y2="479.70" stroke="#3c3c3c" stroke-width="1.1"/>
<text x="217.46" y="489.00" font-size="6.5" text-anchor="middle" textLength="3.1" lengthAdjust="spacingAndGlyphs" fill="#222">3</text>
<line x1="233.02" y1="477.30" x2="233.02" y2="479.70" stroke="#3c3c3c" stroke-width="1.1"/>
<text x="233.02" y="489.00" font-size="6.5" text-anchor="middle" textLength="3.1" lengthAdjust="spacingAndGlyphs" fill="#222">6</text>
<line x1="248.58" y1="477.30" x2="248.58" y2="479.70" stroke="#3c3c3c" stroke-width="1.1"/>
<text x="248.58" y="489.00" font-size="6.5" text-anchor="middle" textLength="3.1" lengthAdjust="spacingAndGlyphs" fill="#222">9</text>
<line x1="264.14" y1="477.30" x2="264.14" y2="479.70" stroke="#3c3c3c" stroke-width="1.1"/>
<text x="264.14" y="489.00" font-size="6.5" text-anchor="middle" textLength="6.0" lengthAdjust="spacingAndGlyphs" fill="#222">12</text>
<line x1="279.71" y1="477.30" x2="279.71" y2="479.70" stroke="#3c3c3c" stroke-width="1.1"/>
<text x="279.71" y="489.00" font-size="6.5" text-anchor="middle" textLength="6.0" lengthAdjust="spacingAndGlyphs" fill="#222">15</text>
<line x1="295.27" y1="477.30" x2="295.27" y2="479.70" stroke="#3c3c3c" stroke-width="1.1"/>
<text x="295.27" y="489.00" font-size="6.5" text-anchor="middle" textLength="6.0" lengthAdjust="spacingAndGlyphs" fill="#222">18</text>
<line x1="310.83" y1="477.30" x2="310.83" y2="479.70" stroke="#3c3c3c" stroke-width="1.1"/>
<text x="310.83" y="489.00" font-size="6.5" text-anchor="middle" textLength="6.0" lengthAdjust="spacingAndGlyphs" fill="#222">21</text>
<line x1="326.39" y1="477.30" x2="326.39" y2="479.70" stroke="#3c3c3c" stroke-width="1.1"/>
<text x="326.39" y="489.00" font-size="6.5" text-anchor="middle" textLength="6.0" lengthAdjust="spacingAndGlyphs" fill="#222">24</text>
<line x1="341.95" y1="477.30" x2="341.95" y2="479.70" stroke="#3c3c3c" stroke-width="1.1"/>
<text x="341.95" y="489.00" font-size="6.5" text-anchor="middle" textLength="6.0" lengthAdjust="spacingAndGlyphs" fill="#222">27</text>
<line x1="357.51" y1="477.30" x2="357.51" y2="479.70" stroke="#3c3c3c" stroke-width="1.1"/>
<text x="357.51" y="489.00" font-size="6.5" text-anchor="middle" textLength="6.0" lengthAdjust="spacingAndGlyphs" fill="#222">30</text>
<text x="281.40" y="500.30" font-size="9.2" text-anchor="middle" textLength="26.8" lengthAdjust="spacingAndGlyphs" fill="#222">Months</text>
<text transform="translate(180.1,411.9) rotate(-90)" font-size="9.0" text-anchor="middle" textLength="39.7" lengthAdjust="spacingAndGlyphs" fill="#222">% surviving</text>
<path d="M201.90,349.20 H209.50 V353.20 H221.90 V357.60 H235.20 V361.90 H345.00" fill="none" stroke="#46669a" stroke-width="1.7" stroke-linejoin="miter" stroke-linecap="butt"/>
<path d="M201.90,349.20 H210.50 V351.20 H213.80 V354.40 H218.50 V356.40 H221.90 V359.00 H226.00 V361.60 H230.90 V362.50 H238.40 V368.00 H245.90 V373.20 H252.00 V377.80 H255.40 V381.30 H280.40 V385.20 H298.80 V399.50 H311.30 V411.30 H344.00" fill="none" stroke="#6cae3e" stroke-width="1.6" stroke-dasharray="3,2" stroke-linejoin="miter" stroke-linecap="butt"/>
<path d="M201.90,349.20 H213.30 V351.50 H220.00 V356.00 H226.00 V360.00 H232.00 V365.00 H235.00 V370.60 H248.50 V376.00 H250.80 V381.80 H298.80 V400.60 H335.40" fill="none" stroke="#eea230" stroke-width="1.6" stroke-dasharray="3,2" stroke-linejoin="miter" stroke-linecap="butt"/>
<path d="M201.90,349.20 H211.00 V351.00 H216.70 V354.70 H220.20 V355.50 H226.50 V359.90 H232.60 V363.90 H237.50 V365.40 H241.00 V366.30 H246.20 V367.40 H248.50 V368.20 H251.40 V370.00 H252.50 V372.60 H280.40 V374.60 H298.80 V384.20 H310.80 V390.60 H345.00" fill="none" stroke="#a3203a" stroke-width="1.7" stroke-linejoin="miter" stroke-linecap="butt"/>
<path d="M201.90,349.20 H218.50 V354.20 H222.00 V354.70 H226.50 V359.60 H232.50 V364.20 H235.20 V370.00 H247.60 V374.60 H250.20 V379.80 H298.80 V399.20 H335.40" fill="none" stroke="#633a80" stroke-width="1.6" stroke-linejoin="miter" stroke-linecap="butt"/>
<path d="M269.10,363.32 L272.90,363.32 L271.00,360.00 Z" fill="#46669a"/>
<path d="M272.35,363.32 L276.15,363.32 L274.25,360.00 Z" fill="#46669a"/>
<path d="M275.60,363.32 L279.40,363.32 L277.50,360.00 Z" fill="#46669a"/>
<path d="M278.85,363.32 L282.65,363.32 L280.75,360.00 Z" fill="#46669a"/>
<path d="M282.10,363.32 L285.90,363.32 L284.00,360.00 Z" fill="#46669a"/>
<path d="M285.35,363.32 L289.15,363.32 L287.25,360.00 Z" fill="#46669a"/>
<path d="M288.60,363.32 L292.40,363.32 L290.50,360.00 Z" fill="#46669a"/>
<path d="M291.85,363.32 L295.65,363.32 L293.75,360.00 Z" fill="#46669a"/>
<path d="M295.10,363.32 L298.90,363.32 L297.00,360.00 Z" fill="#46669a"/>
<path d="M301.50,363.32 L305.30,363.32 L303.40,360.00 Z" fill="#46669a"/>
<path d="M327.70,363.32 L331.50,363.32 L329.60,360.00 Z" fill="#46669a"/>
<path d="M335.40,363.32 L339.20,363.32 L337.30,360.00 Z" fill="#46669a"/>
<path d="M338.30,363.32 L342.10,363.32 L340.20,360.00 Z" fill="#46669a"/>
<path d="M341.40,363.32 L345.20,363.32 L343.30,360.00 Z" fill="#46669a"/>
<circle cx="204.00" cy="349.40" r="1.7" fill="#a3203a"/>
<circle cx="207.80" cy="349.00" r="1.7" fill="#a3203a"/>
<circle cx="210.40" cy="349.00" r="1.7" fill="#a3203a"/>
<circle cx="269.50" cy="372.50" r="1.7" fill="#a3203a"/>
<circle cx="272.25" cy="372.50" r="1.7" fill="#a3203a"/>
<circle cx="275.00" cy="372.50" r="1.7" fill="#a3203a"/>
<circle cx="277.75" cy="372.50" r="1.7" fill="#a3203a"/>
<circle cx="280.50" cy="372.50" r="1.7" fill="#a3203a"/>
<circle cx="282.00" cy="374.60" r="1.7" fill="#a3203a"/>
<circle cx="285.00" cy="374.60" r="1.7" fill="#a3203a"/>
<circle cx="288.00" cy="374.60" r="1.7" fill="#a3203a"/>
<circle cx="291.00" cy="374.60" r="1.7" fill="#a3203a"/>
<circle cx="294.00" cy="374.60" r="1.7" fill="#a3203a"/>
<circle cx="297.00" cy="374.60" r="1.7" fill="#a3203a"/>
<circle cx="303.00" cy="384.20" r="1.7" fill="#a3203a"/>
<circle cx="306.00" cy="384.20" r="1.7" fill="#a3203a"/>
<circle cx="328.00" cy="390.60" r="1.7" fill="#a3203a"/>
<circle cx="330.83" cy="390.60" r="1.7" fill="#a3203a"/>
<circle cx="333.67" cy="390.60" r="1.7" fill="#a3203a"/>
<circle cx="336.50" cy="390.60" r="1.7" fill="#a3203a"/>
<circle cx="339.33" cy="390.60" r="1.7" fill="#a3203a"/>
<circle cx="342.17" cy="390.60" r="1.7" fill="#a3203a"/>
<circle cx="345.00" cy="390.60" r="1.7" fill="#a3203a"/>
<path d="M269,372.5 H280.5 M281.5,374.7 H297.2 M328,390.6 H345" stroke="#a3203a" stroke-width="2.6" stroke-linecap="round" fill="none"/>
<rect x="267.10" y="378.40" width="2.8" height="2.8" fill="#633a80"/>
<rect x="270.32" y="378.40" width="2.8" height="2.8" fill="#633a80"/>
<rect x="273.54" y="378.40" width="2.8" height="2.8" fill="#633a80"/>
<rect x="276.77" y="378.40" width="2.8" height="2.8" fill="#633a80"/>
<rect x="279.99" y="378.40" width="2.8" height="2.8" fill="#633a80"/>
<rect x="283.21" y="378.40" width="2.8" height="2.8" fill="#633a80"/>
<rect x="286.43" y="378.40" width="2.8" height="2.8" fill="#633a80"/>
<rect x="289.66" y="378.40" width="2.8" height="2.8" fill="#633a80"/>
<rect x="292.88" y="378.40" width="2.8" height="2.8" fill="#633a80"/>
<rect x="296.10" y="378.40" width="2.8" height="2.8" fill="#633a80"/>
<rect x="301.60" y="397.80" width="2.8" height="2.8" fill="#633a80"/>
<rect x="304.60" y="397.80" width="2.8" height="2.8" fill="#633a80"/>
<rect x="320.60" y="397.80" width="2.8" height="2.8" fill="#633a80"/>
<rect x="332.10" y="397.80" width="2.8" height="2.8" fill="#633a80"/>
<path d="M268.5,380 H282.4 M283.4,380 H298" stroke="#633a80" stroke-width="2.6" stroke-linecap="round" fill="none"/>
<rect x="212.10" y="348.30" width="2.4" height="2.4" fill="#eea230"/>
<rect x="234.60" y="369.40" width="2.4" height="2.4" fill="#eea230"/>
<rect x="241.00" y="369.40" width="2.4" height="2.4" fill="#eea230"/>
<rect x="247.30" y="374.80" width="2.4" height="2.4" fill="#eea230"/>
<rect x="249.60" y="380.90" width="2.4" height="2.4" fill="#eea230"/>
<rect x="256.10" y="380.20" width="2.4" height="2.4" fill="#eea230"/>
<rect x="262.50" y="380.20" width="2.4" height="2.4" fill="#eea230"/>
<rect x="299.80" y="399.40" width="2.4" height="2.4" fill="#eea230"/>
<rect x="303.80" y="399.40" width="2.4" height="2.4" fill="#eea230"/>
<rect x="319.80" y="399.40" width="2.4" height="2.4" fill="#eea230"/>
<rect x="330.80" y="399.40" width="2.4" height="2.4" fill="#eea230"/>
<path d="M209.40,352.40 L212.60,352.40 L211.00,349.60 Z" fill="#6cae3e"/>
<path d="M212.20,355.60 L215.40,355.60 L213.80,352.80 Z" fill="#6cae3e"/>
<path d="M216.90,357.60 L220.10,357.60 L218.50,354.80 Z" fill="#6cae3e"/>
<path d="M220.30,360.20 L223.50,360.20 L221.90,357.40 Z" fill="#6cae3e"/>
<path d="M224.40,362.80 L227.60,362.80 L226.00,360.00 Z" fill="#6cae3e"/>
<path d="M229.30,363.70 L232.50,363.70 L230.90,360.90 Z" fill="#6cae3e"/>
<path d="M236.80,369.20 L240.00,369.20 L238.40,366.40 Z" fill="#6cae3e"/>
<path d="M244.30,374.40 L247.50,374.40 L245.90,371.60 Z" fill="#6cae3e"/>
<path d="M250.40,379.00 L253.60,379.00 L252.00,376.20 Z" fill="#6cae3e"/>
<path d="M253.80,382.70 L257.00,382.70 L255.40,379.90 Z" fill="#6cae3e"/>
<path d="M335.40,412.50 L338.60,412.50 L337.00,409.70 Z" fill="#6cae3e"/>
<path d="M339.40,412.50 L342.60,412.50 L341.00,409.70 Z" fill="#6cae3e"/>
<path d="M342.40,412.50 L345.60,412.50 L344.00,409.70 Z" fill="#6cae3e"/>
<path d="M281,384.9 H297.6 M335.5,411.3 H339.5 M343.3,411.3 H345.3" stroke="#6cae3e" stroke-width="3" stroke-linecap="round" fill="none"/>
<text x="354.20" y="362.50" font-size="6.5" text-anchor="start" textLength="33.0" lengthAdjust="spacingAndGlyphs" fill="#222">Len exposed</text>
<text x="350.30" y="393.20" font-size="6.5" text-anchor="start" textLength="27.0" lengthAdjust="spacingAndGlyphs" fill="#222">All treated</text>
<text x="341.50" y="399.90" font-size="6.5" text-anchor="start" textLength="37.7" lengthAdjust="spacingAndGlyphs" fill="#222">Bort refractory</text>
<text x="341.50" y="406.10" font-size="6.5" text-anchor="start" textLength="45.7" lengthAdjust="spacingAndGlyphs" fill="#222">PI/IMiD refractory</text>
<text x="349.60" y="413.70" font-size="6.5" text-anchor="start" textLength="35.8" lengthAdjust="spacingAndGlyphs" fill="#222">Len refractory</text>
<text x="194.00" y="507.20" font-size="6.5" text-anchor="end" textLength="25.7" lengthAdjust="spacingAndGlyphs" fill="#222">No. at risk</text>
<text x="194.00" y="516.20" font-size="6.5" text-anchor="end" textLength="26.9" lengthAdjust="spacingAndGlyphs" fill="#222">All treated</text>
<text x="203.40" y="516.20" font-size="6.6" text-anchor="middle" textLength="6.4" lengthAdjust="spacingAndGlyphs" fill="#222">85</text>
<text x="218.96" y="516.20" font-size="6.6" text-anchor="middle" textLength="6.4" lengthAdjust="spacingAndGlyphs" fill="#222">79</text>
<text x="234.52" y="516.20" font-size="6.6" text-anchor="middle" textLength="6.4" lengthAdjust="spacingAndGlyphs" fill="#222">74</text>
<text x="250.08" y="516.20" font-size="6.6" text-anchor="middle" textLength="6.4" lengthAdjust="spacingAndGlyphs" fill="#222">68</text>
<text x="265.64" y="516.20" font-size="6.6" text-anchor="middle" textLength="6.4" lengthAdjust="spacingAndGlyphs" fill="#222">56</text>
<text x="281.21" y="516.20" font-size="6.6" text-anchor="middle" textLength="6.4" lengthAdjust="spacingAndGlyphs" fill="#222">51</text>
<text x="296.77" y="516.20" font-size="6.6" text-anchor="middle" textLength="6.4" lengthAdjust="spacingAndGlyphs" fill="#222">23</text>
<text x="312.33" y="516.20" font-size="6.6" text-anchor="middle" textLength="6.4" lengthAdjust="spacingAndGlyphs" fill="#222">15</text>
<text x="327.89" y="516.20" font-size="6.6" text-anchor="middle" textLength="6.4" lengthAdjust="spacingAndGlyphs" fill="#222">14</text>
<text x="343.45" y="516.20" font-size="6.6" text-anchor="middle" textLength="3.2" lengthAdjust="spacingAndGlyphs" fill="#222">3</text>
<text x="359.01" y="516.20" font-size="6.6" text-anchor="middle" textLength="3.2" lengthAdjust="spacingAndGlyphs" fill="#222">0</text>
<text x="194.00" y="524.10" font-size="6.5" text-anchor="end" textLength="33.1" lengthAdjust="spacingAndGlyphs" fill="#222">Len exposed</text>
<text x="203.40" y="524.10" font-size="6.6" text-anchor="middle" textLength="6.4" lengthAdjust="spacingAndGlyphs" fill="#222">30</text>
<text x="218.96" y="524.10" font-size="6.6" text-anchor="middle" textLength="6.4" lengthAdjust="spacingAndGlyphs" fill="#222">29</text>
<text x="234.52" y="524.10" font-size="6.6" text-anchor="middle" textLength="6.4" lengthAdjust="spacingAndGlyphs" fill="#222">28</text>
<text x="250.08" y="524.10" font-size="6.6" text-anchor="middle" textLength="6.4" lengthAdjust="spacingAndGlyphs" fill="#222">27</text>
<text x="265.64" y="524.10" font-size="6.6" text-anchor="middle" textLength="6.4" lengthAdjust="spacingAndGlyphs" fill="#222">27</text>
<text x="281.21" y="524.10" font-size="6.6" text-anchor="middle" textLength="6.4" lengthAdjust="spacingAndGlyphs" fill="#222">21</text>
<text x="296.77" y="524.10" font-size="6.6" text-anchor="middle" textLength="3.2" lengthAdjust="spacingAndGlyphs" fill="#222">9</text>
<text x="312.33" y="524.10" font-size="6.6" text-anchor="middle" textLength="3.2" lengthAdjust="spacingAndGlyphs" fill="#222">7</text>
<text x="327.89" y="524.10" font-size="6.6" text-anchor="middle" textLength="3.2" lengthAdjust="spacingAndGlyphs" fill="#222">7</text>
<text x="343.45" y="524.10" font-size="6.6" text-anchor="middle" textLength="3.2" lengthAdjust="spacingAndGlyphs" fill="#222">1</text>
<text x="359.01" y="524.10" font-size="6.6" text-anchor="middle" textLength="3.2" lengthAdjust="spacingAndGlyphs" fill="#222">0</text>
<text x="194.00" y="531.60" font-size="6.5" text-anchor="end" textLength="36.5" lengthAdjust="spacingAndGlyphs" fill="#222">Len refractory</text>
<text x="203.40" y="531.60" font-size="6.6" text-anchor="middle" textLength="6.4" lengthAdjust="spacingAndGlyphs" fill="#222">51</text>
<text x="218.96" y="531.60" font-size="6.6" text-anchor="middle" textLength="6.4" lengthAdjust="spacingAndGlyphs" fill="#222">46</text>
<text x="234.52" y="531.60" font-size="6.6" text-anchor="middle" textLength="6.4" lengthAdjust="spacingAndGlyphs" fill="#222">42</text>
<text x="250.08" y="531.60" font-size="6.6" text-anchor="middle" textLength="6.4" lengthAdjust="spacingAndGlyphs" fill="#222">37</text>
<text x="265.64" y="531.60" font-size="6.6" text-anchor="middle" textLength="6.4" lengthAdjust="spacingAndGlyphs" fill="#222">34</text>
<text x="281.21" y="531.60" font-size="6.6" text-anchor="middle" textLength="6.4" lengthAdjust="spacingAndGlyphs" fill="#222">27</text>
<text x="296.77" y="531.60" font-size="6.6" text-anchor="middle" textLength="6.4" lengthAdjust="spacingAndGlyphs" fill="#222">13</text>
<text x="312.33" y="531.60" font-size="6.6" text-anchor="middle" textLength="3.2" lengthAdjust="spacingAndGlyphs" fill="#222">7</text>
<text x="327.89" y="531.60" font-size="6.6" text-anchor="middle" textLength="3.2" lengthAdjust="spacingAndGlyphs" fill="#222">6</text>
<text x="343.45" y="531.60" font-size="6.6" text-anchor="middle" textLength="3.2" lengthAdjust="spacingAndGlyphs" fill="#222">2</text>
<text x="359.01" y="531.60" font-size="6.6" text-anchor="middle" textLength="3.2" lengthAdjust="spacingAndGlyphs" fill="#222">0</text>
<text x="194.00" y="539.20" font-size="6.5" text-anchor="end" textLength="46.6" lengthAdjust="spacingAndGlyphs" fill="#222">PI/IMiD refractory</text>
<text x="203.40" y="539.20" font-size="6.6" text-anchor="middle" textLength="6.4" lengthAdjust="spacingAndGlyphs" fill="#222">25</text>
<text x="218.96" y="539.20" font-size="6.6" text-anchor="middle" textLength="6.4" lengthAdjust="spacingAndGlyphs" fill="#222">24</text>
<text x="234.52" y="539.20" font-size="6.6" text-anchor="middle" textLength="6.4" lengthAdjust="spacingAndGlyphs" fill="#222">21</text>
<text x="250.08" y="539.20" font-size="6.6" text-anchor="middle" textLength="6.4" lengthAdjust="spacingAndGlyphs" fill="#222">19</text>
<text x="265.64" y="539.20" font-size="6.6" text-anchor="middle" textLength="6.4" lengthAdjust="spacingAndGlyphs" fill="#222">17</text>
<text x="281.21" y="539.20" font-size="6.6" text-anchor="middle" textLength="6.4" lengthAdjust="spacingAndGlyphs" fill="#222">12</text>
<text x="296.77" y="539.20" font-size="6.6" text-anchor="middle" textLength="3.2" lengthAdjust="spacingAndGlyphs" fill="#222">7</text>
<text x="312.33" y="539.20" font-size="6.6" text-anchor="middle" textLength="3.2" lengthAdjust="spacingAndGlyphs" fill="#222">2</text>
<text x="327.89" y="539.20" font-size="6.6" text-anchor="middle" textLength="3.2" lengthAdjust="spacingAndGlyphs" fill="#222">2</text>
<text x="343.45" y="539.20" font-size="6.6" text-anchor="middle" textLength="3.2" lengthAdjust="spacingAndGlyphs" fill="#222">0</text>
<text x="359.01" y="539.20" font-size="6.6" text-anchor="middle" textLength="3.2" lengthAdjust="spacingAndGlyphs" fill="#222">0</text>
<text x="194.00" y="546.90" font-size="6.5" text-anchor="end" textLength="37.7" lengthAdjust="spacingAndGlyphs" fill="#222">Bort refractory</text>
<text x="203.40" y="546.90" font-size="6.6" text-anchor="middle" textLength="6.4" lengthAdjust="spacingAndGlyphs" fill="#222">26</text>
<text x="218.96" y="546.90" font-size="6.6" text-anchor="middle" textLength="6.4" lengthAdjust="spacingAndGlyphs" fill="#222">25</text>
<text x="234.52" y="546.90" font-size="6.6" text-anchor="middle" textLength="6.4" lengthAdjust="spacingAndGlyphs" fill="#222">22</text>
<text x="250.08" y="546.90" font-size="6.6" text-anchor="middle" textLength="6.4" lengthAdjust="spacingAndGlyphs" fill="#222">20</text>
<text x="265.64" y="546.90" font-size="6.6" text-anchor="middle" textLength="6.4" lengthAdjust="spacingAndGlyphs" fill="#222">18</text>
<text x="281.21" y="546.90" font-size="6.6" text-anchor="middle" textLength="6.4" lengthAdjust="spacingAndGlyphs" fill="#222">12</text>
<text x="296.77" y="546.90" font-size="6.6" text-anchor="middle" textLength="3.2" lengthAdjust="spacingAndGlyphs" fill="#222">7</text>
<text x="312.33" y="546.90" font-size="6.6" text-anchor="middle" textLength="3.2" lengthAdjust="spacingAndGlyphs" fill="#222">2</text>
<text x="327.89" y="546.90" font-size="6.6" text-anchor="middle" textLength="3.2" lengthAdjust="spacingAndGlyphs" fill="#222">2</text>
<text x="343.45" y="546.90" font-size="6.6" text-anchor="middle" textLength="3.2" lengthAdjust="spacingAndGlyphs" fill="#222">0</text>
<text x="359.01" y="546.90" font-size="6.6" text-anchor="middle" textLength="3.2" lengthAdjust="spacingAndGlyphs" fill="#222">0</text>
<rect x="0" y="0" width="520" height="1" fill="#4a4a4a"/>
<rect x="0" y="1" width="519" height="1" fill="#b8b8b8"/>
<rect x="0" y="0" width="1" height="556" fill="#474747"/>
<rect x="1" y="1" width="1" height="554" fill="#b4b4b4"/>
<rect x="519" y="1" width="1" height="556" fill="#0a0a0a"/>
<rect x="0" y="555" width="520" height="1" fill="#3a3a3a"/>
<rect x="0" y="556" width="520" height="1" fill="#d4d4d4"/>
</svg>
</body></html>
